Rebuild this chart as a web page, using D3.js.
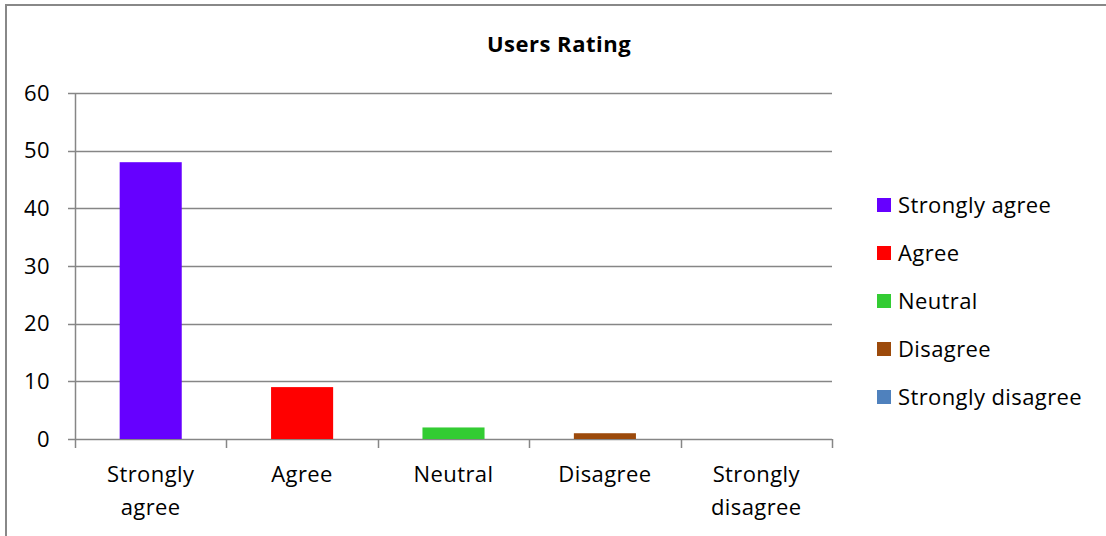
<!DOCTYPE html>
<html>
<head>
<meta charset="utf-8">
<script src="https://cdn.jsdelivr.net/npm/d3@7"></script>
<style>
  html, body { margin: 0; padding: 0; background: #fff; }
  svg { display: block; }
  text { font-family: "Open Sans", "Liberation Sans", sans-serif; fill: #000; letter-spacing: 0.4px; }
</style>
</head>
<body>
<svg id="chart" width="1106" height="536"></svg>
<script>
const categories = ["Strongly agree", "Agree", "Neutral", "Disagree", "Strongly disagree"];
const values = [48, 9, 2, 1, 0];
const colors = ["#6600FF", "#FF0000", "#33CC33", "#9C4A0B", "#4F81BD"];
const yTicks = [0, 10, 20, 30, 40, 50, 60];
const title = "Users Rating";

const svg = d3.select("#chart");
const W = 1106, H = 536;
const margin = { left: 75, right: 1106 - 832, top: 93, bottom: 536 - 439 };

// outer frame (cut off at right and bottom)
svg.append("rect")
  .attr("x", 6).attr("y", 5)
  .attr("width", 1200).attr("height", 600)
  .attr("fill", "none").attr("stroke", "#888").attr("stroke-width", 2);

const x = d3.scaleBand().domain(categories).range([margin.left, W - margin.right]).paddingInner(0.59).paddingOuter(0.295);
const xFull = d3.scaleBand().domain(categories).range([margin.left, W - margin.right]);
const y = d3.scaleLinear().domain([0, 60]).range([H - margin.bottom, margin.top]);

// gridlines
svg.append("g").selectAll("line").data(yTicks).join("line")
  .attr("x1", margin.left - 7).attr("x2", W - margin.right)
  .attr("y1", d => Math.round(y(d)) + 0.5).attr("y2", d => Math.round(y(d)) + 0.5)
  .attr("stroke", "#868686").attr("stroke-width", 1.5);

// y axis line
svg.append("line")
  .attr("x1", margin.left + 0.5).attr("x2", margin.left + 0.5)
  .attr("y1", y(60)).attr("y2", y(0))
  .attr("stroke", "#868686").attr("stroke-width", 1.5);

// y tick labels
svg.append("g").selectAll("text").data(yTicks).join("text")
  .attr("x", 50).attr("y", d => y(d))
  .attr("dy", "0.35em").attr("text-anchor", "end")
  .attr("font-size", 22)
  .text(d => d);

// x tick marks
const xTickPos = categories.map(c => xFull(c)).concat([W - margin.right]);
svg.append("g").selectAll("line").data(xTickPos).join("line")
  .attr("x1", d => Math.round(d) + 0.5).attr("x2", d => Math.round(d) + 0.5)
  .attr("y1", y(0)).attr("y2", y(0) + 9)
  .attr("stroke", "#868686").attr("stroke-width", 1.5);

// bars
svg.append("g").selectAll("rect").data(categories).join("rect")
  .attr("x", d => x(d))
  .attr("y", (d, i) => y(values[i]))
  .attr("width", x.bandwidth())
  .attr("height", (d, i) => y(0) - y(values[i]))
  .attr("fill", (d, i) => colors[i]);

// x labels
const xl = svg.append("g").selectAll("text").data(categories).join("text")
  .attr("x", d => xFull(d) + xFull.bandwidth() / 2)
  .attr("y", 482)
  .attr("text-anchor", "middle")
  .attr("font-size", 22);
xl.each(function(d) {
  const words = d.split(" ");
  const t = d3.select(this);
  words.forEach((w, i) => {
    t.append("tspan").attr("x", xFull(d) + xFull.bandwidth() / 2)
      .attr("dy", i === 0 ? 0 : 33).text(w);
  });
});

// title
svg.append("text")
  .attr("x", 559).attr("y", 52)
  .attr("text-anchor", "middle")
  .attr("font-size", 22).attr("font-weight", "bold")
  .style("letter-spacing", "0.5px")
  .text(title);

// legend
const lg = svg.append("g").selectAll("g").data(categories).join("g")
  .attr("transform", (d, i) => `translate(877, ${205 + i * 48})`);
lg.append("rect").attr("x", 0).attr("y", -7).attr("width", 14).attr("height", 14)
  .attr("fill", (d, i) => colors[i]);
lg.append("text").attr("x", 21).attr("y", 0).attr("dy", "0.35em")
  .attr("font-size", 22).text(d => d);
</script>
</body>
</html>
